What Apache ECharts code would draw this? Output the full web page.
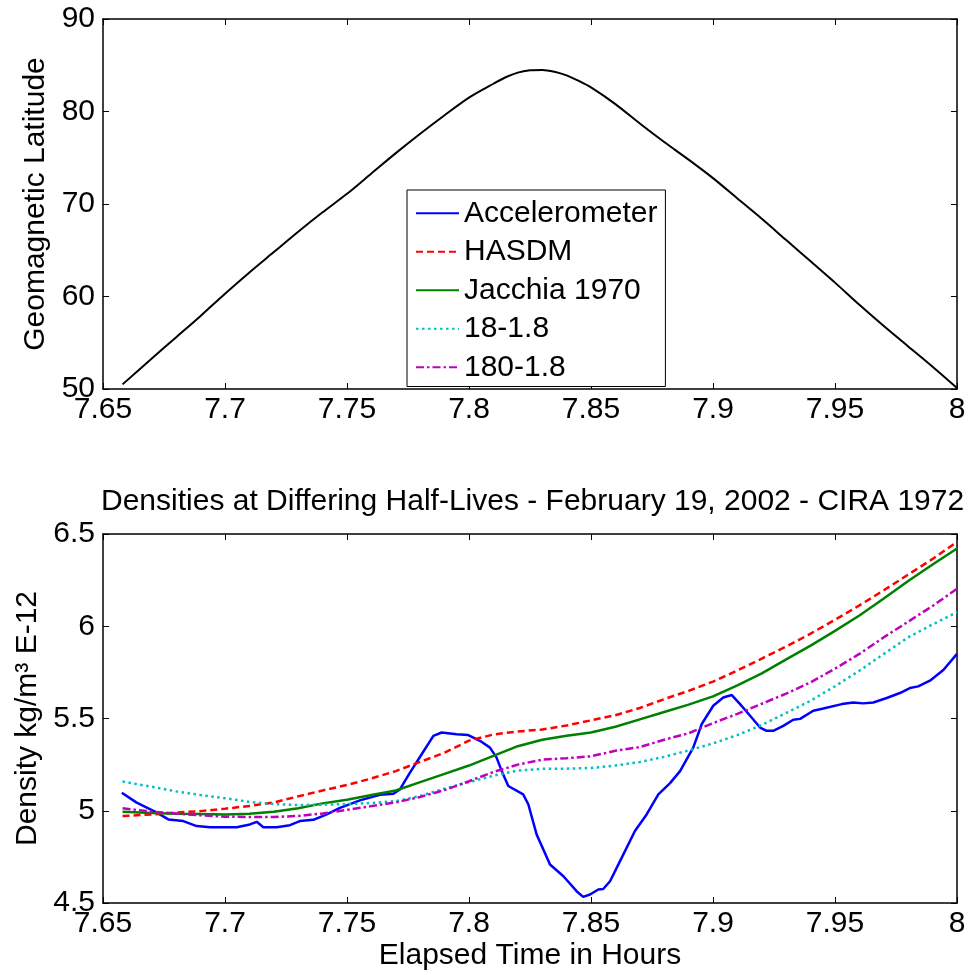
<!DOCTYPE html>
<html>
<head>
<meta charset="utf-8">
<script src="https://cdn.jsdelivr.net/npm/echarts@6/dist/echarts.min.js"></script>
<style>
html,body{margin:0;padding:0;background:#fff;}
#chart{width:970px;height:975px;}
</style>
</head>
<body>
<div id="chart"></div>
<script>
// ---- Data ----
const latTime = [7.658, 7.67, 7.68, 7.69, 7.70, 7.71, 7.72, 7.73, 7.74, 7.75, 7.76, 7.77, 7.78, 7.79, 7.80, 7.81, 7.815, 7.82, 7.825, 7.83, 7.835, 7.84, 7.845, 7.85, 7.86, 7.87, 7.88, 7.89, 7.90, 7.91, 7.92, 7.93, 7.94, 7.95, 7.96, 7.97, 7.98, 7.99, 8.00];
const latValues = [50.5, 53.3, 55.6, 57.9, 60.3, 62.6, 64.8, 67.0, 69.1, 71.1, 73.3, 75.5, 77.6, 79.6, 81.5, 83.0, 83.7, 84.2, 84.45, 84.5, 84.3, 83.9, 83.3, 82.6, 80.8, 78.7, 76.7, 74.8, 72.8, 70.6, 68.4, 66.1, 63.8, 61.5, 59.1, 56.8, 54.6, 52.4, 50.1];

const accelTime = [7.6577, 7.6638, 7.6713, 7.6768, 7.6829, 7.6884, 7.6939, 7.7048, 7.7102, 7.713, 7.7157, 7.7212, 7.7266, 7.7307, 7.7362, 7.7417, 7.7471, 7.7553, 7.7635, 7.769, 7.7717, 7.7758, 7.7806, 7.7854, 7.7888, 7.7949, 7.7997, 7.8045, 7.8086, 7.8113, 7.8134, 7.8161, 7.8222, 7.8243, 7.8277, 7.8332, 7.8387, 7.8441, 7.8468, 7.8496, 7.853, 7.855, 7.8578, 7.8619, 7.868, 7.8728, 7.8776, 7.8824, 7.8865, 7.8919, 7.8954, 7.9001, 7.9042, 7.9077, 7.9111, 7.9152, 7.9193, 7.922, 7.9247, 7.9288, 7.9329, 7.9357, 7.9411, 7.9452, 7.9528, 7.9575, 7.9616, 7.9657, 7.9712, 7.9766, 7.9807, 7.9841, 7.9889, 7.9944, 8.0];
const accelValues = [5.098, 5.044, 4.995, 4.953, 4.944, 4.917, 4.911, 4.911, 4.926, 4.94, 4.911, 4.911, 4.922, 4.944, 4.951, 4.98, 5.016, 5.056, 5.087, 5.092, 5.116, 5.207, 5.306, 5.406, 5.424, 5.415, 5.41, 5.379, 5.342, 5.288, 5.216, 5.134, 5.089, 5.035, 4.872, 4.709, 4.645, 4.564, 4.533, 4.546, 4.573, 4.576, 4.618, 4.727, 4.89, 4.98, 5.089, 5.15, 5.215, 5.342, 5.47, 5.569, 5.614, 5.627, 5.578, 5.515, 5.451, 5.433, 5.433, 5.46, 5.493, 5.498, 5.542, 5.554, 5.578, 5.587, 5.582, 5.587, 5.611, 5.638, 5.665, 5.674, 5.705, 5.763, 5.85];

const modelTime = [7.658, 7.67, 7.68, 7.69, 7.70, 7.71, 7.72, 7.73, 7.74, 7.75, 7.76, 7.77, 7.78, 7.79, 7.80, 7.81, 7.82, 7.83, 7.84, 7.85, 7.86, 7.87, 7.88, 7.89, 7.90, 7.91, 7.92, 7.93, 7.94, 7.95, 7.96, 7.97, 7.98, 7.99, 8.00];
const hasdmValues = [4.971, 4.98, 4.99, 4.998, 5.011, 5.026, 5.045, 5.078, 5.11, 5.14, 5.175, 5.215, 5.265, 5.315, 5.38, 5.413, 5.43, 5.44, 5.462, 5.49, 5.518, 5.557, 5.605, 5.65, 5.70, 5.76, 5.825, 5.89, 5.96, 6.035, 6.113, 6.195, 6.28, 6.365, 6.457];
const jacchiaValues = [4.995, 4.988, 4.984, 4.982, 4.98, 4.984, 4.994, 5.014, 5.04, 5.06, 5.085, 5.11, 5.155, 5.2, 5.245, 5.297, 5.35, 5.385, 5.406, 5.424, 5.455, 5.495, 5.535, 5.575, 5.62, 5.68, 5.745, 5.82, 5.895, 5.975, 6.058, 6.15, 6.245, 6.335, 6.421];
const hl18Values = [5.158, 5.13, 5.105, 5.085, 5.068, 5.048, 5.036, 5.031, 5.033, 5.036, 5.042, 5.052, 5.08, 5.12, 5.155, 5.19, 5.218, 5.227, 5.228, 5.232, 5.245, 5.264, 5.292, 5.327, 5.365, 5.41, 5.465, 5.53, 5.596, 5.675, 5.759, 5.85, 5.94, 6.01, 6.076];
const hl180Values = [5.013, 4.995, 4.985, 4.975, 4.968, 4.966, 4.966, 4.972, 4.985, 5.005, 5.025, 5.045, 5.075, 5.112, 5.16, 5.21, 5.25, 5.277, 5.285, 5.295, 5.325, 5.345, 5.385, 5.42, 5.475, 5.525, 5.58, 5.635, 5.696, 5.77, 5.85, 5.94, 6.025, 6.11, 6.203];

const seriesNames = ['Accelerometer', 'HASDM', 'Jacchia 1970', '18-1.8', '180-1.8'];
const titleText = 'Densities at Differing Half-Lives - February 19, 2002 - CIRA 1972';

// ---- Helpers ----
const pair = (xs, ys) => xs.map((x, i) => [x, ys[i]]);
const FONT = '"Liberation Sans", Arial, sans-serif';
const FS = 30;

function xAx(grid, pos, showLabel, name) {
  return {
    type: 'value', gridIndex: grid, position: pos, min: 7.65, max: 8, interval: 0.05,
    axisLine: {show: true, onZero: false, lineStyle: {color: '#000', width: 1.5}},
    axisTick: {show: true, inside: true, length: 6, lineStyle: {color: '#000', width: 1}},
    axisLabel: {show: showLabel, color: '#000', fontFamily: FONT, fontSize: FS, margin: 6},
    splitLine: {show: false},
    name: name || '', nameLocation: 'middle', nameGap: 38,
    nameTextStyle: {color: '#000', fontFamily: FONT, fontSize: FS}
  };
}
function yAx(grid, pos, showLabel, min, max, interval, name) {
  return {
    type: 'value', gridIndex: grid, position: pos, min: min, max: max, interval: interval,
    axisLine: {show: true, onZero: false, lineStyle: {color: '#000', width: 1.5}},
    axisTick: {show: true, inside: true, length: 6, lineStyle: {color: '#000', width: 1}},
    axisLabel: {show: showLabel, color: '#000', fontFamily: FONT, fontSize: FS, margin: 8},
    splitLine: {show: false},
    name: name || '', nameLocation: 'middle', nameGap: 48, nameRotate: 90,
    nameTextStyle: {color: '#000', fontFamily: FONT, fontSize: FS}
  };
}
function line(name, data, color, type, xi, yi, width, smooth) {
  return {
    name: name, type: 'line', data: data, xAxisIndex: xi, yAxisIndex: yi,
    symbol: 'none', showSymbol: false, smooth: smooth || false, silent: true, animation: false,
    lineStyle: {color: color, width: width, type: type}, itemStyle: {color: color}
  };
}

const chart = echarts.init(document.getElementById('chart'), null, {renderer: 'canvas'});
chart.setOption({
  backgroundColor: '#fff',
  animation: false,
  title: {
    text: titleText, left: 96, top: 482,
    textStyle: {color: '#000', fontFamily: FONT, fontSize: FS, fontWeight: 'normal'}
  },
  legend: {
    data: seriesNames, orient: 'vertical', left: 407, top: 190,
    padding: [4, 8, 0, 8], itemGap: 0, itemWidth: 43, itemHeight: 14,
    backgroundColor: '#fff', borderColor: '#000', borderWidth: 1,
    itemStyle: {opacity: 0},
    textStyle: {color: '#000', fontFamily: FONT, fontSize: FS, lineHeight: 38.5},
    selectedMode: false
  },
  grid: [
    {left: 103, right: 13, top: 19, height: 370},
    {left: 103, right: 13, top: 534, height: 369}
  ],
  xAxis: [
    xAx(0, 'bottom', true),
    xAx(0, 'top', false),
    xAx(1, 'bottom', true, 'Elapsed Time in Hours'),
    xAx(1, 'top', false)
  ],
  yAxis: [
    yAx(0, 'left', true, 50, 90, 10, 'Geomagnetic Latitude'),
    yAx(0, 'right', false, 50, 90, 10),
    yAx(1, 'left', true, 4.5, 6.5, 0.5, 'Density kg/m³ E-12'),
    yAx(1, 'right', false, 4.5, 6.5, 0.5)
  ],
  series: [
    line('Latitude', pair(latTime, latValues), '#000000', 'solid', 0, 0, 2, 0.3),
    line(seriesNames[0], pair(accelTime, accelValues), '#0000FF', 'solid', 2, 2, 2.5),
    line(seriesNames[1], pair(modelTime, hasdmValues), '#FF0000', [7, 4], 2, 2, 2.5),
    line(seriesNames[2], pair(modelTime, jacchiaValues), '#008000', 'solid', 2, 2, 2.5),
    line(seriesNames[3], pair(modelTime, hl18Values), '#00BFBF', [2.5, 3.5], 2, 2, 2.5),
    line(seriesNames[4], pair(modelTime, hl180Values), '#BF00BF', [8, 3, 2.5, 3], 2, 2, 2.5)
  ]
});
</script>
</body>
</html>
